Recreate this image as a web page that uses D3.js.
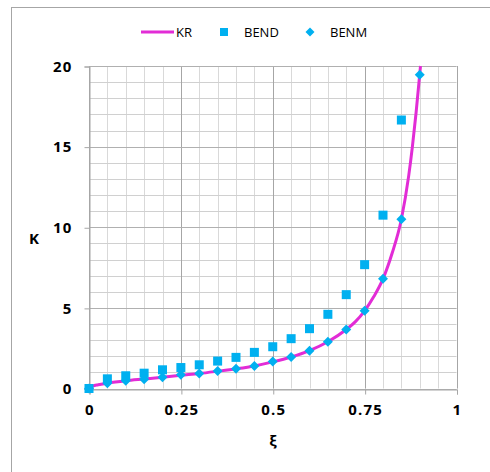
<!DOCTYPE html>
<html>
<head>
<meta charset="utf-8">
<script src="https://cdn.jsdelivr.net/npm/d3@7/dist/d3.min.js"></script>
<style>
  html, body { margin: 0; padding: 0; background: #fff; }
  svg { display: block; }
  text { font-family: "Open Sans", "Liberation Sans", sans-serif; fill: #000; }
</style>
</head>
<body>
<svg id="chart" width="490" height="472"></svg>
<script>
// Relative crack length ξ and stress intensity K
const xiPoints = [0, 0.05, 0.1, 0.15, 0.2, 0.25, 0.3, 0.35, 0.4, 0.45, 0.5, 0.55, 0.6, 0.65, 0.7, 0.75, 0.8, 0.85, 0.9];
const bendValues = [0, 0.6, 0.79, 0.95, 1.16, 1.3, 1.47, 1.7, 1.93, 2.24, 2.59, 3.09, 3.71, 4.6, 5.82, 7.68, 10.75, 16.65, null];
const benmValues = [0, 0.33, 0.48, 0.58, 0.7, 0.85, 0.93, 1.08, 1.22, 1.39, 1.68, 1.95, 2.34, 2.9, 3.66, 4.82, 6.81, 10.5, 19.46];

// KR reference curve
const krXi = [0, 0.01, 0.025, 0.05, 0.1, 0.15, 0.2, 0.25, 0.3, 0.35, 0.4, 0.45, 0.5, 0.55, 0.6, 0.65, 0.7, 0.725, 0.75, 0.775, 0.8, 0.825, 0.85, 0.87, 0.88, 0.89, 0.9, 0.902];
const krK = [0, 0.14, 0.23, 0.33, 0.48, 0.59, 0.7, 0.82, 0.93, 1.07, 1.22, 1.4, 1.65, 1.95, 2.35, 2.9, 3.66, 4.15, 4.82, 5.7, 6.8, 8.4, 10.5, 13.2, 15.0, 17.1, 19.5, 20.0];

const xTicks = [0, 0.25, 0.5, 0.75, 1];
const yTicks = [0, 5, 10, 15, 20];
const legendNames = ["KR", "BEND", "BENM"];

const lineColor = "#e22cd6";
const markColor = "#00b0f0";

const svg = d3.select("#chart");

// outer chart frame
svg.append("rect")
  .attr("x", 11.5).attr("y", 7.5)
  .attr("width", 490).attr("height", 480)
  .attr("fill", "none").attr("stroke", "#a6a6a6").attr("stroke-width", 1);

const plot = { left: 89, right: 456.5, top: 66, bottom: 388.5 };
const x = d3.scaleLinear().domain([0, 1]).range([plot.left, plot.right]);
const y = d3.scaleLinear().domain([0, 20]).range([plot.bottom, plot.top]);

const grid = svg.append("g");
// minor grid
d3.range(0, 1.0001, 0.05).forEach(v => {
  grid.append("line")
    .attr("x1", Math.round(x(v)) + 0.5).attr("x2", Math.round(x(v)) + 0.5)
    .attr("y1", plot.top).attr("y2", plot.bottom)
    .attr("stroke", "#d9d9d9").attr("stroke-width", 1);
});
d3.range(0, 20.0001, 1).forEach(v => {
  grid.append("line")
    .attr("x1", plot.left).attr("x2", plot.right)
    .attr("y1", Math.round(y(v)) + 0.5).attr("y2", Math.round(y(v)) + 0.5)
    .attr("stroke", "#d0d0d0").attr("stroke-width", 1);
});
// major grid
xTicks.forEach(v => {
  grid.append("line")
    .attr("x1", Math.round(x(v)) + 0.5).attr("x2", Math.round(x(v)) + 0.5)
    .attr("y1", plot.top).attr("y2", plot.bottom)
    .attr("stroke", "#a6a6a6").attr("stroke-width", 1);
});
yTicks.forEach(v => {
  grid.append("line")
    .attr("x1", plot.left).attr("x2", plot.right)
    .attr("y1", Math.round(y(v)) + 0.5).attr("y2", Math.round(y(v)) + 0.5)
    .attr("stroke", "#b0b0b0").attr("stroke-width", 1);
});

// axes
const xAxis = d3.axisBottom(x).tickValues(xTicks).tickFormat(d => String(d)).tickSize(5).tickPadding(10);
const yAxis = d3.axisLeft(y).tickValues(yTicks).tickFormat(d => String(d)).tickSize(5).tickPadding(12);

const gx = svg.append("g").attr("transform", `translate(0.5,${Math.round(plot.bottom) + 0.5})`).call(xAxis);
const gy = svg.append("g").attr("transform", `translate(${plot.left + 0.5},0.5)`).call(yAxis);
[gx, gy].forEach(g => {
  g.select(".domain").attr("stroke", "#a6a6a6");
  g.selectAll(".tick line").attr("stroke", "#a6a6a6");
  g.selectAll(".tick text")
    .attr("font-family", "'Liberation Sans', Arial, sans-serif")
    .attr("font-size", 15).attr("font-weight", "bold")
    .attr("letter-spacing", "1.2px")
    .attr("fill", "#000");
});

// axis titles
svg.append("text").attr("x", 273).attr("y", 446)
  .attr("text-anchor", "middle").attr("font-size", 15).attr("font-weight", "bold").text("ξ");
svg.append("text").attr("x", 34).attr("y", 244)
  .attr("text-anchor", "middle").attr("font-family", "'Liberation Sans', Arial, sans-serif")
  .attr("font-size", 15).attr("font-weight", "bold").text("K");

// KR curve
const krData = krXi.map((v, i) => [v, krK[i]]);
const line = d3.line().x(d => x(d[0])).y(d => y(d[1])).curve(d3.curveMonotoneX);
svg.append("path").datum(krData)
  .attr("d", line).attr("fill", "none")
  .attr("stroke", lineColor).attr("stroke-width", 3);

// BENM diamonds
svg.append("g").selectAll("path")
  .data(xiPoints.map((v, i) => [v, benmValues[i]]).filter(d => d[1] != null))
  .join("path")
  .attr("transform", d => `translate(${x(d[0])},${y(d[1])})`)
  .attr("d", "M0,-5L5,0L0,5L-5,0Z")
  .attr("fill", markColor);

// BEND squares
svg.append("g").selectAll("rect")
  .data(xiPoints.map((v, i) => [v, bendValues[i]]).filter(d => d[1] != null))
  .join("rect")
  .attr("x", d => x(d[0]) - 4.5).attr("y", d => y(d[1]) - 4.5)
  .attr("width", 9).attr("height", 9)
  .attr("fill", markColor);

// legend
const lg = svg.append("g").attr("font-size", 13);
lg.append("line").attr("x1", 141).attr("x2", 174).attr("y1", 32).attr("y2", 32)
  .attr("stroke", lineColor).attr("stroke-width", 3);
lg.append("text").attr("x", 176).attr("y", 37).text(legendNames[0]);
lg.append("rect").attr("x", 220).attr("y", 28).attr("width", 8).attr("height", 8).attr("fill", markColor);
lg.append("text").attr("x", 244).attr("y", 37).text(legendNames[1]);
lg.append("path").attr("transform", "translate(310,32)").attr("d", "M0,-4.5L4.5,0L0,4.5L-4.5,0Z").attr("fill", markColor);
lg.append("text").attr("x", 330).attr("y", 37).text(legendNames[2]);
</script>
</body>
</html>
